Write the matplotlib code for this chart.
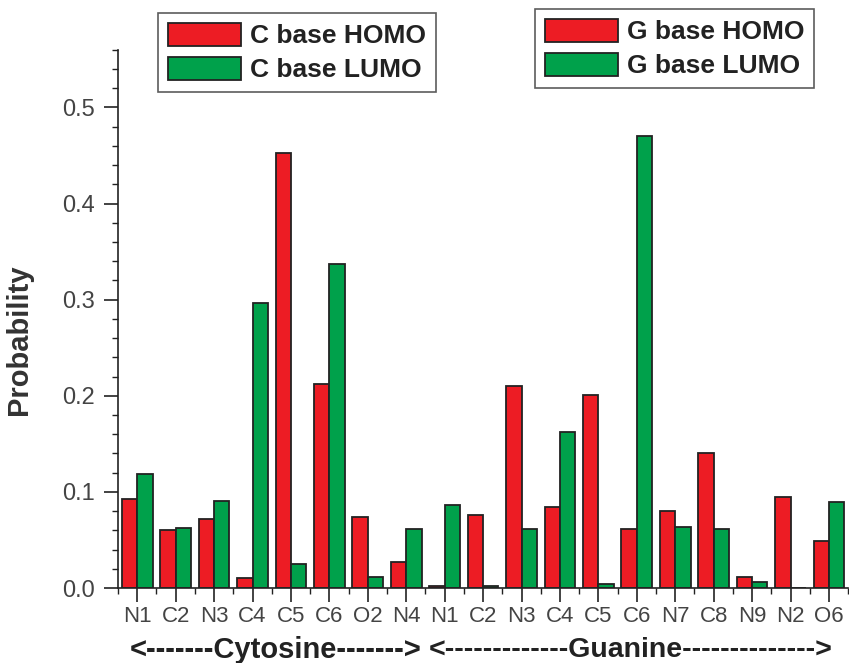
import matplotlib
matplotlib.use("Agg")
import matplotlib.pyplot as plt
import matplotlib.patches as mpatches
import matplotlib.transforms as mtransforms
import numpy as np

# ---- data ----
atoms = ["N1", "C2", "N3", "C4", "C5", "C6", "O2", "N4",
         "N1", "C2", "N3", "C4", "C5", "C6", "N7", "C8", "N9", "N2", "O6"]
homo = [0.093, 0.060, 0.072, 0.011, 0.453, 0.212, 0.074, 0.027,
        0.002, 0.076, 0.210, 0.084, 0.201, 0.061, 0.080, 0.141, 0.012, 0.095, 0.049]
lumo = [0.119, 0.062, 0.091, 0.297, 0.025, 0.337, 0.012, 0.061,
        0.086, 0.002, 0.061, 0.162, 0.004, 0.470, 0.064, 0.061, 0.006, 0.0, 0.090]

RED = "#ED1C24"
GREEN = "#00A14B"
EDGE = "#222222"

plt.rcParams["font.family"] = ["Liberation Sans", "DejaVu Sans"]

fig = plt.figure(figsize=(8.49, 6.63), dpi=100)
ax = fig.add_axes([0.139, 0.113, 0.860, 0.812])

x = np.arange(len(atoms))
w = 0.4
ax.bar(x - w / 2, homo, w, color=RED, edgecolor=EDGE, linewidth=1.3)
ax.bar(x + w / 2, lumo, w, color=GREEN, edgecolor=EDGE, linewidth=1.3)

ax.set_xlim(-0.49, 18.36)
ax.set_ylim(0, 0.552)

for s in ["top", "right"]:
    ax.spines[s].set_visible(False)
for s in ["left", "bottom"]:
    ax.spines[s].set_linewidth(1.2)
    ax.spines[s].set_color("#222222")

ax.set_xticks(x)
ax.set_xticklabels(atoms)
ax.set_xticks(np.arange(-0.5, len(atoms), 1), minor=True)
ax.set_yticks([0.0, 0.1, 0.2, 0.3, 0.4, 0.5])
ax.set_yticklabels(["0.0", "0.1", "0.2", "0.3", "0.4", "0.5"])
ax.set_yticks(np.arange(0, 0.56, 0.02), minor=True)

ax.tick_params(axis="both", which="major", direction="out", length=10, width=1.2,
               colors="#222222", labelcolor="#444444")
ax.tick_params(axis="x", which="major", labelsize=16, length=10, pad=3)
ax.tick_params(axis="y", which="major", labelsize=17, pad=7)
ax.tick_params(axis="both", which="minor", direction="out", length=4, width=1.0,
               colors="#222222")

ax.set_ylabel("Probability", fontsize=21, fontweight="bold", color="#333333")
ax.yaxis.set_label_coords(-0.116, 0.461)

trans = mtransforms.blended_transform_factory(ax.transData, fig.transFigure)
ax.text(3.59, 0.019, "<-------Cytosine------->", transform=trans, ha="center", va="center",
        fontsize=21, fontweight="bold", color="#222222")
ax.text(12.84, 0.019, "<-------------Guanine-------------->", transform=trans, ha="center",
        va="center", fontsize=20.5, fontweight="bold", color="#222222")

# legends
leg_kw = dict(frameon=True, fancybox=False, edgecolor="#333333",
              handlelength=2.75, handleheight=0.95, handletextpad=0.35,
              borderpad=0.38, labelspacing=0.32, borderaxespad=0)
prop = {"weight": "bold", "size": 19}

handles = [mpatches.Patch(facecolor=RED, edgecolor=EDGE, linewidth=1.3),
           mpatches.Patch(facecolor=GREEN, edgecolor=EDGE, linewidth=1.3)]
leg1 = fig.legend(handles, ["C base HOMO", "C base LUMO"], loc="upper left",
                  bbox_to_anchor=(158 / 849, 1 - 13 / 663), prop=prop, **leg_kw)
leg1.get_frame().set_linewidth(1.2)
for t in leg1.get_texts():
    t.set_color("#222222")

leg2 = fig.legend(handles, ["G base HOMO", "G base LUMO"], loc="upper left",
                  bbox_to_anchor=(535 / 849, 1 - 9 / 663), prop=prop, **leg_kw)
leg2.get_frame().set_linewidth(1.2)
for t in leg2.get_texts():
    t.set_color("#222222")

fig.savefig("out.png", dpi=100)
